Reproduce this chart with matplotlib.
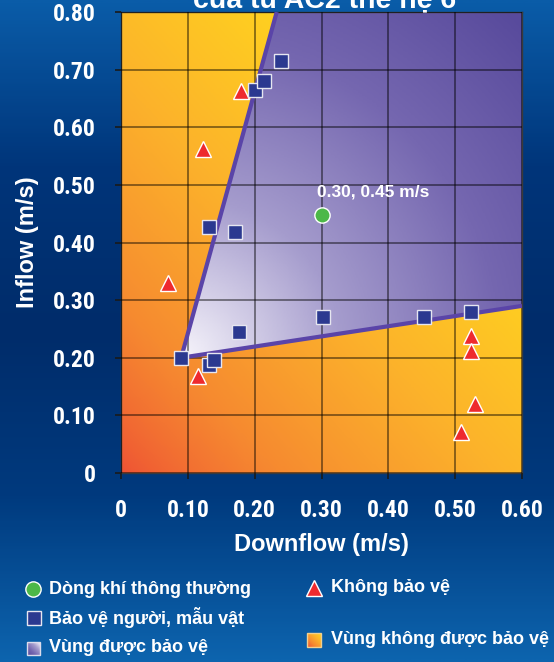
import numpy as np
import matplotlib.pyplot as plt
from matplotlib import font_manager as fm
from matplotlib.colors import LinearSegmentedColormap
from matplotlib.patches import Polygon, Rectangle

# --- data ---
guard_x = [0.090, 0.131, 0.139, 0.131, 0.171, 0.176, 0.302, 0.454, 0.523, 0.200, 0.214, 0.239]
guard_y = [0.200, 0.188, 0.196, 0.427, 0.419, 0.244, 0.270, 0.270, 0.280, 0.664, 0.680, 0.715]
fail_x = [0.179, 0.122, 0.071, 0.115, 0.523, 0.523, 0.529, 0.509]
fail_y = [0.663, 0.563, 0.330, 0.169, 0.237, 0.211, 0.120, 0.072]
nominal_x = [0.30]
nominal_y = [0.447]
zone_x = [0.090, 0.233, 0.600, 0.600]
zone_y = [0.200, 0.800, 0.800, 0.290]

xticks = [0, 0.1, 0.2, 0.3, 0.4, 0.5, 0.6]
xticklabels = ['0', '0.10', '0.20', '0.30', '0.40', '0.50', '0.60']
yticks = [0, 0.1, 0.2, 0.3, 0.4, 0.5, 0.6, 0.7, 0.8]
yticklabels = ['0', '0.10', '0.20', '0.30', '0.40', '0.50', '0.60', '0.70', '0.80']

title = 'của tủ AC2 thế hệ 6'
note = '0.30, 0.45 m/s'
legend_items = ['Dòng khí thông thường', 'Bảo vệ người, mẫu vật', 'Vùng được bảo vệ',
                'Không bảo vệ', 'Vùng không được bảo vệ']

# look for a condensed face for the tick numbers, else plain Liberation Sans
installed = {f.name for f in fm.fontManager.ttflist}
narrow = None
for cand in ['Liberation Sans Narrow', 'Roboto Condensed', 'Open Sans Condensed', 'DejaVu Sans Condensed']:
    if cand in installed:
        narrow = cand
        break
if narrow is None:
    tick_font = dict(family=['Liberation Sans', 'DejaVu Sans'], size=15)
else:
    tick_font = dict(family=[narrow, 'DejaVu Sans'], size=17)
sans = ['Liberation Sans', 'DejaVu Sans']

orange_cm = LinearSegmentedColormap.from_list('orng', ['#ee5234', '#f68a30', '#fcb22b', '#ffd41f'])
purple_cm = LinearSegmentedColormap.from_list('purp', ['#f6f4fb', '#a59ccd', '#7567b0', '#584a9c'])
blue_cm = LinearSegmentedColormap.from_list('blu', ['#0a5ca8', '#00357a', '#002c6a', '#003a7e', '#0d64ae'])

fig = plt.figure(figsize=(5.54, 6.62), dpi=100)

# background
bg = fig.add_axes([0, 0, 1, 1], zorder=-10)
grad = np.linspace(0, 1, 300).reshape(-1, 1)
bg.imshow(grad, cmap=blue_cm, aspect='auto', extent=[0, 1, 0, 1], origin='upper')
bg.set_axis_off()

ax = fig.add_axes([121 / 554, 1 - 473 / 662, 401 / 554, 461 / 662])

# unprotected zone gradient
gx, gy = np.meshgrid(np.linspace(0, 1, 200), np.linspace(0, 1, 200))
t = np.clip((gx * 0.55 + gy * 0.6) / 0.85, 0, 1) ** 0.8
ax.imshow(t, cmap=orange_cm, extent=[0, 0.6, 0, 0.8], origin='lower', aspect='auto', zorder=0)

# protected zone gradient
px, py = np.meshgrid(np.linspace(0, 0.6, 300), np.linspace(0, 0.8, 300))
d = np.hypot((px - zone_x[0]) / 0.6 * 401, (py - zone_y[0]) / 0.8 * 461)
d = np.clip(d / 480, 0, 1)
im = ax.imshow(d, cmap=purple_cm, extent=[0, 0.6, 0, 0.8], origin='lower', aspect='auto', zorder=1)
zone = Polygon(list(zip(zone_x, zone_y)), closed=True, fc='none', ec='none')
ax.add_patch(zone)
im.set_clip_path(zone)

ax.plot([zone_x[1], zone_x[0], zone_x[3]], [zone_y[1], zone_y[0], zone_y[3]],
        color='#5a44a8', lw=3, zorder=3, solid_capstyle='butt')

ax.grid(True, color='black', alpha=0.45, lw=1.4)
ax.set_axisbelow(False)

ax.plot(fail_x, fail_y, ls='none', marker='^', ms=12, mfc='#ee2a2e', mec='white', mew=1, zorder=5)
ax.plot(guard_x, guard_y, ls='none', marker='s', ms=10, mfc='#2b3990', mec='#e6e6f0', mew=1, zorder=6)
ax.plot(nominal_x, nominal_y, ls='none', marker='o', ms=11, mfc='#4cb848', mec='white', mew=1, zorder=6)
ax.text(nominal_x[0] - 0.007, nominal_y[0] + 0.04, note, color='white', fontsize=12.5,
        fontweight='bold', family=sans, va='center', ha='left', zorder=7)

ax.set_xlim(0, 0.6)
ax.set_ylim(0, 0.8)
ax.set_xticks(xticks)
ax.set_xticklabels(xticklabels)
ax.set_yticks(yticks)
ax.set_yticklabels(yticklabels)
for lab in ax.get_xticklabels() + ax.get_yticklabels():
    lab.set_family(tick_font['family'])
    lab.set_fontweight('bold')
    lab.set_fontsize(tick_font['size'])
    lab.set_color('white')
ax.tick_params(axis='x', length=4, width=1.2, color='#1a1a1a', pad=15)
ax.tick_params(axis='y', length=4, width=1.2, color='#1a1a1a', pad=14)
for s in ax.spines.values():
    s.set_color('#3a3a3a')
    s.set_linewidth(1)

ax.set_xlabel('Downflow (m/s)', color='white', fontsize=17, fontweight='bold', family=sans)
ax.set_ylabel('Inflow (m/s)', color='white', fontsize=17, fontweight='bold', family=sans)
ax.xaxis.set_label_coords(0.5, (473 - 533) / 461)
ax.yaxis.set_label_coords((39 - 121) / 401, 0.5)

fig.text(325 / 554, 1 - 8 / 662, title, color='white', fontsize=20.5, fontweight='bold',
         family=sans, ha='center', va='baseline')

# legend, drawn in pixel space
lg = fig.add_axes([0, 0, 1, 1], zorder=10)
lg.set_axis_off()
lg.plot([33], [589], marker='o', ms=11, mfc='#4cb848', mec='white', mew=1)
lg.plot([314], [588], marker='^', ms=12, mfc='#ee2a2e', mec='white', mew=1)
lg.plot([33.5], [618], marker='s', ms=10, mfc='#2b3990', mec='#e6e6f0', mew=1)
sq = np.linspace(0, 1, 50)
sqg = (sq[None, :] + sq[::-1, None]) / 2
lg.imshow(1 - sqg, cmap=purple_cm, extent=[27, 40, 655, 642], aspect='auto', zorder=2)
lg.add_patch(Rectangle((27, 642), 13, 13, fc='none', ec='#dcdcec', lw=1, zorder=3))
lg.imshow(sqg, cmap=orange_cm, extent=[307, 321, 647, 633], aspect='auto', zorder=2)
lg.add_patch(Rectangle((307, 633), 14, 14, fc='none', ec='#f0d090', lw=1, zorder=3))
lg.set_xlim(0, 554)
lg.set_ylim(662, 0)
pos = [(49, 589), (49, 618), (49, 648), (331, 588), (331, 640)]
for (tx, ty), s in zip(pos, legend_items):
    lg.text(tx, ty, s, color='white', fontsize=13, fontweight='bold', family=sans,
            ha='left', va='center')

fig.savefig('out.png', dpi=100)
